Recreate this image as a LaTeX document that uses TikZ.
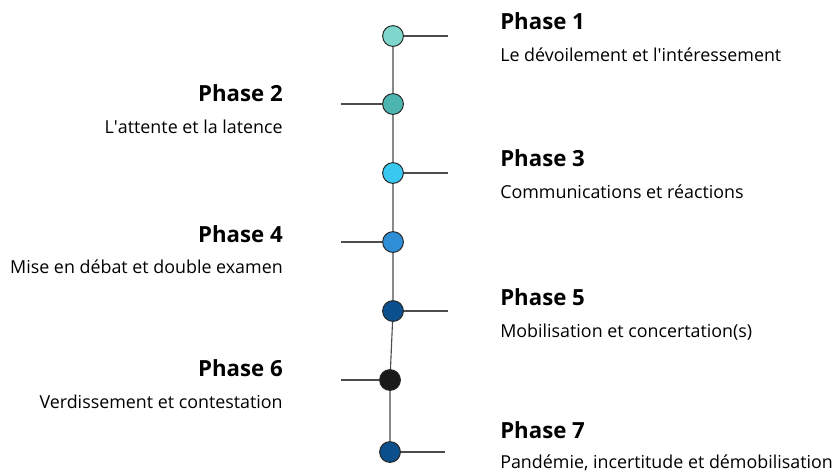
\documentclass[tikz,border=0pt]{standalone}
\usepackage{fontspec}
\setmainfont{Open Sans}
\definecolor{c1}{HTML}{7FD6CC}
\definecolor{c2}{HTML}{4CB5B0}
\definecolor{c3}{HTML}{38C8F0}
\definecolor{c4}{HTML}{2E8FD6}
\definecolor{c5}{HTML}{0B4F8C}
\definecolor{c6}{HTML}{1A1A1A}
\begin{document}
\begin{tikzpicture}[x=0.025cm, y=-0.025cm,
  dot/.style={draw=black!85, circle, minimum size=0.52cm, inner sep=0pt, line width=0.7pt},
  stem/.style={draw=black!70, line width=0.8pt},
  phase/.style={font=\bfseries\fontsize{15.8}{18}\selectfont, inner sep=0pt},
  what/.style={font=\fontsize{12.7}{14}\selectfont, inner sep=0pt}]
\useasboundingbox (0,0) rectangle (832,470);
% timeline dots
\node (1)[dot, fill=c1] at (393,36)  {};
\node (2)[dot, fill=c2] at (393,104) {};
\node (3)[dot, fill=c3] at (393,173) {};
\node (4)[dot, fill=c4] at (393,242) {};
\node (5)[dot, fill=c5] at (393,311) {};
\node (6)[dot, fill=c6] at (390,380) {};
\node (7)[dot, fill=c5] at (390,452) {};
% free ends of the ticks
\coordinate (e1) at (448,36);
\coordinate (e2) at (341,104);
\coordinate (e3) at (448,173);
\coordinate (e4) at (341,242);
\coordinate (e5) at (448,311);
\coordinate (e6) at (341,380);
\coordinate (e7) at (445,452);
\path[stem] (1)--(2) (2)--(3) (3)--(4) (4)--(5) (5)--(6) (6)--(7);
\path[stem] (1)--(e1) (2)--(e2) (3)--(e3) (4)--(e4) (5)--(e5) (6)--(e6) (7)--(e7);
% labels
\node (p1)[phase, anchor=base west] at (500,29)  {Phase 1};
\node (t1)[what,  anchor=base west] at (500,61)  {Le dévoilement et l\textquotesingle intéressement};
\node (p2)[phase, anchor=base east] at (283,101) {Phase 2};
\node (t2)[what,  anchor=base east] at (283,133) {L\textquotesingle attente et la latence};
\node (p3)[phase, anchor=base west] at (500,166) {Phase 3};
\node (t3)[what,  anchor=base west] at (500,198) {Communications et réactions};
\node (p4)[phase, anchor=base east] at (283,242) {Phase 4};
\node (t4)[what,  anchor=base east] at (283,273) {Mise en débat et double examen};
\node (p5)[phase, anchor=base west] at (500,305) {Phase 5};
\node (t5)[what,  anchor=base west] at (500,337) {Mobilisation et concertation(s)};
\node (p6)[phase, anchor=base east] at (283,376) {Phase 6};
\node (t6)[what,  anchor=base east] at (283,408) {Verdissement et contestation};
\node (p7)[phase, anchor=base west] at (500,438) {Phase 7};
\node (t7)[what,  anchor=base west] at (500,468) {Pandémie, incertitude et démobilisation};
\end{tikzpicture}
\end{document}
